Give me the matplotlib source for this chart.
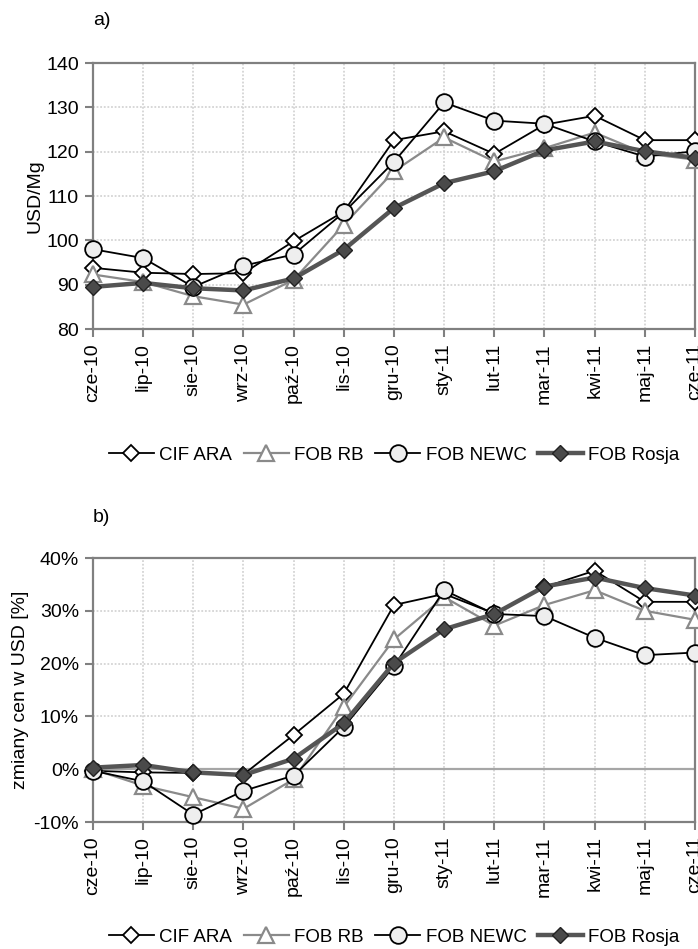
#!/usr/bin/env python3
from matplotlib import pyplot as plt
from matplotlib.lines import Line2D

# Data
months = ['cze-10', 'lip-10', 'sie-10', 'wrz-10', 'paź-10', 'lis-10', 'gru-10',
          'sty-11', 'lut-11', 'mar-11', 'kwi-11', 'maj-11', 'cze-11']

# a) prices, USD/Mg
cif_ara = [93.8, 92.7, 92.4, 92.6, 99.8, 106.5, 122.6, 124.6, 119.5, 126.1, 128.1, 122.6, 122.6]
fob_rb = [92.3, 90.6, 87.4, 85.5, 91.1, 103.5, 115.6, 123.2, 117.8, 120.8, 124.3, 119.6, 118.2]
fob_newc = [98.0, 96.0, 89.5, 94.3, 96.8, 106.3, 117.7, 131.1, 127.0, 126.3, 122.3, 118.9, 120.1]
fob_rosja = [89.5, 90.4, 89.2, 88.7, 91.4, 97.9, 107.3, 112.9, 115.6, 120.3, 122.3, 120.1, 118.6]

# b) changes in USD, %
cif_ara_pct = [-0.3, -0.6, -0.7, -1.0, 6.5, 14.3, 31.1, 33.2, 29.5, 34.5, 37.6, 31.7, 31.7]
fob_rb_pct = [0.0, -3.1, -5.3, -7.5, -1.9, 11.8, 24.6, 32.6, 27.2, 31.1, 33.9, 30.0, 28.3]
fob_newc_pct = [-0.3, -2.3, -8.6, -4.1, -1.2, 8.0, 19.5, 33.9, 29.4, 29.0, 24.9, 21.6, 22.1]
fob_rosja_pct = [0.3, 0.8, -0.6, -1.1, 2.0, 8.7, 20.1, 26.5, 29.4, 34.6, 36.3, 34.3, 32.9]

labels = ['CIF ARA', 'FOB RB', 'FOB NEWC', 'FOB Rosja']

plt.rcParams['font.family'] = ['Liberation Sans', 'DejaVu Sans']

styles = [
    dict(color='black', lw=1.3, marker='D', ms=8, mfc='white', mec='black', mew=1.3),
    dict(color='#8a8a8a', lw=1.6, marker='^', ms=11, mfc='white', mec='#8a8a8a', mew=1.6),
    dict(color='black', lw=1.3, marker='o', ms=12, mfc='#eeeeee', mec='black', mew=1.3),
    dict(color='#555555', lw=3.2, marker='D', ms=8.5, mfc='#4a4a4a', mec='#222222', mew=1.0),
]

spine_col = '#808080'
grid_col = '#d4d4d4'


def setup_axes(ax, ylim, yticks, ylabels, ylabel, pad):
    x = list(range(len(months)))
    ax.set_xlim(0, len(months) - 1)
    ax.set_ylim(*ylim)
    ax.set_xticks(x)
    ax.set_xticklabels(months, rotation=90, fontsize=14)
    ax.set_yticks(yticks)
    ax.set_yticklabels(ylabels, fontsize=14)
    ax.grid(True, color=grid_col, linestyle=(0, (1, 1)), linewidth=1.3)
    ax.set_axisbelow(True)
    for s in ax.spines.values():
        s.set_color(spine_col)
        s.set_linewidth(1.6)
    ax.tick_params(axis='both', color=spine_col, width=1.5, length=6, pad=4)
    ax.set_ylabel(ylabel, fontsize=14, labelpad=pad)


def draw(ax, series):
    x = list(range(len(months)))
    for vals, st in zip(series, styles):
        ax.plot(x, vals, clip_on=False, zorder=3, **st)


def add_legend(fig, ypos):
    handles = [Line2D([0], [0], **st) for st in styles]
    fig.legend(handles, labels, loc='center', bbox_to_anchor=(0.565, ypos), ncol=4,
               frameon=False, fontsize=13.5, handlelength=2.4, handletextpad=0.3,
               columnspacing=0.6, numpoints=1)


fig = plt.figure(figsize=(6.98, 9.49), dpi=100)

ax1 = fig.add_axes([0.1332, 0.6533, 0.8625, 0.2803])
draw(ax1, [cif_ara, fob_rb, fob_newc, fob_rosja])
setup_axes(ax1, (80, 140), [80, 90, 100, 110, 120, 130, 140],
           ['80', '90', '100', '110', '120', '130', '140'], 'USD/Mg', 2)
fig.text(0.1332, 0.978, 'a)', fontsize=14, ha='left', va='center')
add_legend(fig, 1 - 455 / 949)

ax2 = fig.add_axes([0.1332, 0.1338, 0.8625, 0.2782])
ax2.axhline(0, color='#a6a6a6', lw=1.6, zorder=2)
draw(ax2, [cif_ara_pct, fob_rb_pct, fob_newc_pct, fob_rosja_pct])
setup_axes(ax2, (-10, 40), [-10, 0, 10, 20, 30, 40],
           ['-10%', '0%', '10%', '20%', '30%', '40%'], 'zmiany cen w USD [%]', 3)
fig.text(0.1332, 1 - 517 / 949, 'b)', fontsize=14, ha='left', va='center')
add_legend(fig, 1 - 937 / 949)

plt.savefig('out.png', dpi=100)
plt.close()
